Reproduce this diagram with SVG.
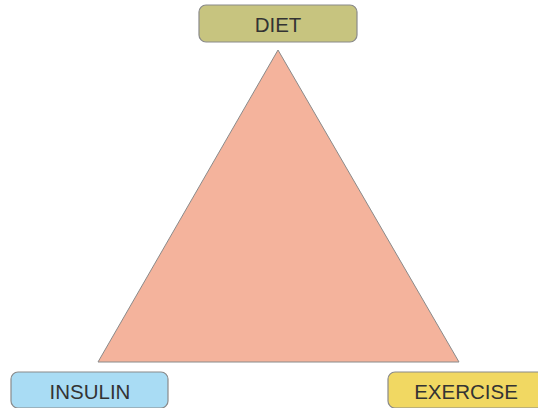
<svg xmlns="http://www.w3.org/2000/svg" width="538" height="408" viewBox="0 0 538 408">
<style>
.box{stroke:#8a8a8a;stroke-width:1.2}
.lbl{font-family:"Liberation Sans",Arial,sans-serif;font-size:20.5px;fill:#333;text-anchor:middle}
</style>
<rect width="538" height="408" fill="#fff"/>
<g id="triangle">
<polygon points="278,50 98,362 459,362" fill="#f4b39c" stroke="#8a8a8a" stroke-width="1"/>
</g>
<g id="diet">
<rect class="box" x="199" y="5" width="158" height="37" rx="7" fill="#c7c47f"/>
<text class="lbl" x="278" y="32">DIET</text>
</g>
<g id="insulin">
<rect class="box" x="11" y="372" width="157" height="36" rx="7" fill="#a9dcf4"/>
<text class="lbl" x="90" y="399">INSULIN</text>
</g>
<g id="exercise">
<rect class="box" x="388" y="372" width="160" height="36" rx="7" fill="#f1d862"/>
<text class="lbl" x="466" y="399">EXERCISE</text>
</g>
<g id="connectors"></g>
</svg>
